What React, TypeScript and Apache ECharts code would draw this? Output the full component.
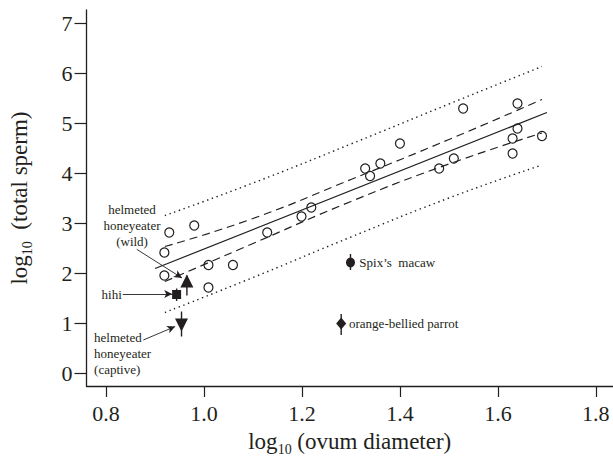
import React, { useEffect, useRef } from "react";
import * as echarts from "echarts";

// ---- data ----
const xTicks = [0.8, 1.0, 1.2, 1.4, 1.6, 1.8];
const yTicks = [0, 1, 2, 3, 4, 5, 6, 7];

const circleX = [0.929, 0.98, 0.919, 0.919, 1.009, 1.059, 1.009, 1.129, 1.199, 1.219, 1.329, 1.339, 1.36, 1.4, 1.48, 1.51, 1.529, 1.63, 1.63, 1.64, 1.64, 1.69];
const circleY = [2.81, 2.95, 2.41, 1.95, 2.16, 2.16, 1.71, 2.81, 3.13, 3.31, 4.09, 3.94, 4.19, 4.59, 4.09, 4.29, 5.29, 4.39, 4.69, 4.89, 5.39, 4.74];

const fitX = [0.9, 1.7];
const fitY = [2.09, 5.21];

const bandX = [0.92, 1.1, 1.3, 1.5, 1.69];
const confUpper = [2.53, 3.09, 3.87, 4.67, 5.47];
const confLower = [1.83, 2.59, 3.43, 4.18, 4.8];
const predUpper = [3.15, 3.8, 4.58, 5.38, 6.13];
const predLower = [1.21, 1.91, 2.72, 3.5, 4.16];

const specialNames = ["helmeted honeyeater (wild)", "hihi", "helmeted honeyeater (captive)", "Spix’s macaw", "orange-bellied parrot"];
const specialX = [0.965, 0.944, 0.954, 1.299, 1.28];
const specialY = [1.84, 1.57, 0.96, 2.21, 0.99];
const specialLow = [1.55, 1.44, 0.73, 2.06, 0.76];
const specialHigh = [1.95, 1.69, 1.23, 2.38, 1.18];

// ---- styles ----
const INK = "#231f20";
const FONT = "Liberation Serif";
const specialSymbols = ["triangle", "rect", "triangle", "circle", "diamond"];
const specialSizes: any[] = [[13, 13], [9, 9], [13, 13], [9, 10], [10, 12]];
const specialRotate = [0, 0, 180, 0, 0];

// annotation anchors in data coordinates
const labels = [
  { text: "helmeted\nhoneyeater\n(wild)", at: [0.853, 2.946], align: "center" },
  { text: "hihi", at: [0.832, 1.58], align: "right" },
  { text: "helmeted\nhoneyeater\n(captive)", at: [0.7755, 0.394], align: "left" },
  { text: "Spix’s  macaw", at: [1.317, 2.214], align: "left" },
  { text: "orange-bellied parrot", at: [1.296, 0.99], align: "left" },
];
const arrows = [
  { from: [0.8626, 2.474], to: [0.955, 1.9] },
  { from: [0.834, 1.58], to: [0.935, 1.58] },
  { from: [0.876, 0.66], to: [0.941, 0.93] },
];

export default function App() {
  const ref = useRef<HTMLDivElement>(null);

  useEffect(() => {
    document.body.style.margin = "0";
    const chart = echarts.init(ref.current as HTMLDivElement, null, { renderer: "svg" });

    const nameRich = {
      a: { fontSize: 23, fontFamily: FONT, color: INK, lineHeight: 30, verticalAlign: "middle" },
      s: { fontSize: 14, fontFamily: FONT, color: INK, lineHeight: 30, verticalAlign: "bottom" },
    };

    const option: any = {
      animation: false,
      backgroundColor: "#ffffff",
      grid: { left: 86, right: 0, top: 10, bottom: 75, containLabel: false },
      xAxis: {
        type: "value",
        min: 0.76,
        max: 1.835,
        name: "{a|log}{s|10}{a| (ovum diameter)}",
        nameLocation: "middle",
        nameGap: 40,
        nameTextStyle: { rich: nameRich },
        axisLine: { show: true, onZero: false, lineStyle: { color: INK, width: 1.3 } },
        axisTick: { show: true, inside: false, length: 11, customValues: xTicks, lineStyle: { color: INK, width: 1.2 } },
        axisLabel: {
          customValues: xTicks,
          margin: 16,
          fontSize: 22,
          fontFamily: FONT,
          color: INK,
          formatter: (v: number) => v.toFixed(1),
        },
        splitLine: { show: false },
      },
      yAxis: {
        type: "value",
        min: -0.26,
        max: 7.26,
        name: "{a|log}{s|10}{a|  (total sperm)}",
        nameLocation: "middle",
        nameRotate: 90,
        nameGap: 52,
        nameTextStyle: { rich: nameRich },
        axisLine: { show: true, onZero: false, lineStyle: { color: INK, width: 1.3 } },
        axisTick: { show: true, inside: false, length: 12, customValues: yTicks, lineStyle: { color: INK, width: 1.2 } },
        axisLabel: {
          customValues: yTicks,
          margin: 14,
          fontSize: 22,
          fontFamily: FONT,
          color: INK,
          formatter: (v: number) => String(Math.round(v)),
        },
        splitLine: { show: false },
      },
      series: [
        {
          type: "line",
          data: predUpper.map((y, i) => [bandX[i], y]),
          showSymbol: false,
          smooth: true,
          lineStyle: { color: INK, width: 1.4, type: [1.4, 3.6] },
        },
        {
          type: "line",
          data: predLower.map((y, i) => [bandX[i], y]),
          showSymbol: false,
          smooth: true,
          lineStyle: { color: INK, width: 1.4, type: [1.4, 3.6] },
        },
        {
          type: "line",
          data: confUpper.map((y, i) => [bandX[i], y]),
          showSymbol: false,
          smooth: true,
          lineStyle: { color: INK, width: 1.2, type: [8, 5] },
        },
        {
          type: "line",
          data: confLower.map((y, i) => [bandX[i], y]),
          showSymbol: false,
          smooth: true,
          lineStyle: { color: INK, width: 1.2, type: [8, 5] },
        },
        {
          type: "line",
          data: fitY.map((y, i) => [fitX[i], y]),
          showSymbol: false,
          lineStyle: { color: INK, width: 1.2, type: "solid" },
        },
        {
          type: "scatter",
          data: circleX.map((x, i) => [x, circleY[i]]),
          symbol: "circle",
          symbolSize: 9,
          itemStyle: { color: "rgba(255,255,255,0)", borderColor: INK, borderWidth: 1.2, opacity: 1 },
          markLine: {
            silent: true,
            symbol: ["none", "arrow"],
            symbolSize: [6, 8],
            label: { show: false },
            lineStyle: { color: INK, width: 0.9, type: "solid" },
            data: arrows.map((a) => [{ coord: a.from }, { coord: a.to }]),
          },
        },
        {
          type: "custom",
          data: specialX.map((x, i) => [x, specialLow[i], specialHigh[i]]),
          encode: { x: 0, y: [1, 2] },
          renderItem: (params: any, api: any) => {
            const x = api.value(0);
            const p1 = api.coord([x, api.value(1)]);
            const p2 = api.coord([x, api.value(2)]);
            return {
              type: "line",
              shape: { x1: p1[0], y1: p1[1], x2: p2[0], y2: p2[1] },
              style: { stroke: INK, lineWidth: 1.4 },
            };
          },
        },
        {
          type: "scatter",
          data: specialX.map((x, i) => ({
            name: specialNames[i],
            value: [x, specialY[i]],
            symbol: specialSymbols[i],
            symbolSize: specialSizes[i],
            symbolRotate: specialRotate[i],
          })),
          itemStyle: { color: INK, opacity: 1 },
          z: 5,
        },
      ],
    };

    chart.setOption(option);

    const graphics = labels.map((l) => {
      const p = chart.convertToPixel({ gridIndex: 0 }, l.at) as number[];
      return {
        type: "text",
        x: p[0],
        y: p[1],
        style: {
          text: l.text,
          fontSize: 13,
          fontFamily: FONT,
          fill: INK,
          align: l.align,
          verticalAlign: "middle",
          lineHeight: 16,
        },
      };
    });
    chart.setOption({ graphic: graphics });

    return () => chart.dispose();
  }, []);

  return <div ref={ref} style={{ width: 613, height: 461 }} />;
}
